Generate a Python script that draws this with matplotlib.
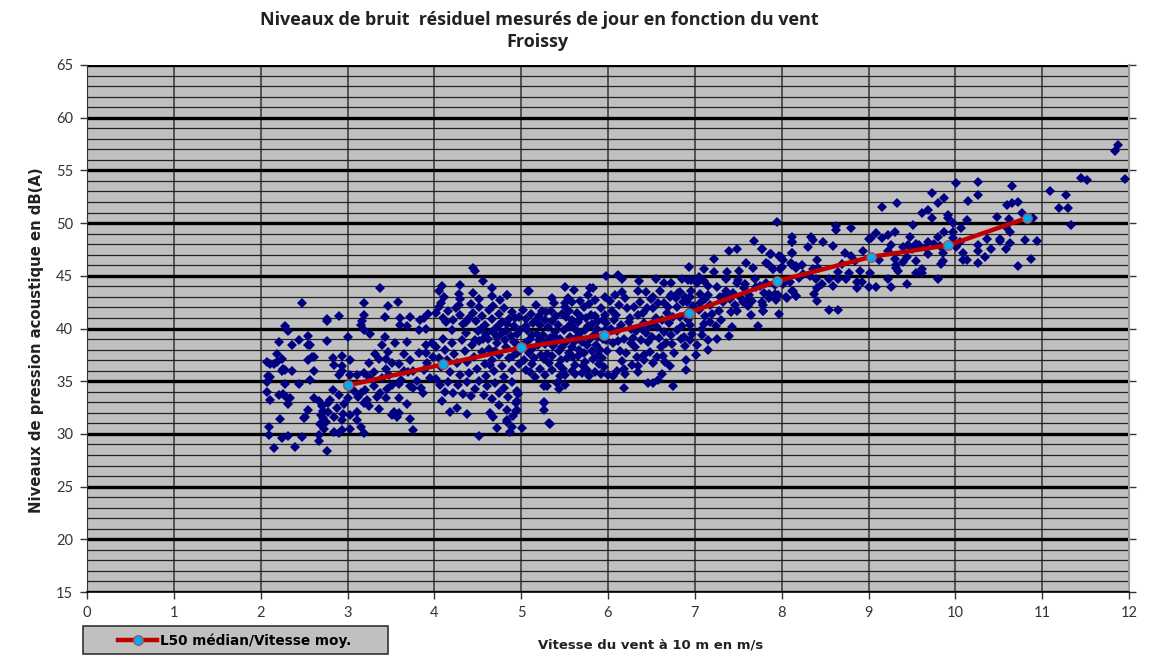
import matplotlib
matplotlib.use('Agg')
import matplotlib.pyplot as plt
from matplotlib.patches import Rectangle
import numpy as np

# values (wind m/s, level dB(A))
pts_2_4 = [
 (2.48,42.4),(2.90,41.2),(2.76,40.9),(2.76,40.7),(2.28,40.2),(2.32,39.8),(2.21,38.7),(2.44,38.9),(2.36,38.4),
 (2.55,39.3),(2.55,38.4),(2.57,38.4),(2.76,38.8),(3.01,39.2),(3.19,42.4),(3.19,41.3),(3.17,40.7),(3.15,40.3),
 (3.19,39.9),(3.26,39.5),(3.37,43.8),(3.47,42.1),(3.58,42.5),(3.43,41.1),(3.61,41.0),(3.72,41.1),(3.61,40.3),
 (3.69,40.2),(3.84,40.8),(3.88,41.0),(3.93,41.4),(3.82,39.9),(3.90,40.0),(3.43,39.2),(3.40,38.4),(3.47,37.8),
 (3.32,37.6),(3.65,37.6),(3.82,37.7),(3.97,38.6),(3.90,38.4),(2.19,37.6),(2.25,37.1),(2.07,36.8),(2.11,36.6),
 (2.15,36.6),(2.19,36.8),(2.26,36.2),(2.28,36.1),(2.25,36.0),(2.36,36.0),(2.08,35.5),(2.11,35.4),(2.07,34.9),
 (2.28,34.7),(2.44,34.7),(2.57,35.1),(2.61,36.0),(2.55,37.0),(2.59,37.3),(2.61,37.3),(2.83,37.2),(2.94,37.4),
 (3.03,37.0),(2.85,36.5),(2.94,36.4),(2.94,36.0),(2.90,35.6),(3.11,35.6),(3.03,35.6),(3.19,35.8),(3.25,36.7),
 (3.36,37.1),(3.44,37.1),(3.44,36.2),(3.51,36.7),(3.59,36.6),(3.65,36.0),(3.25,35.4),(3.30,34.5),(3.51,34.6),
 (3.59,34.7),(3.72,34.5),(3.75,34.4),(3.88,36.1),(3.92,36.7),(3.76,36.0),(2.07,34.0),(2.11,33.2),(2.21,33.7),
 (2.26,33.8),(2.29,33.5),(2.32,32.8),(2.34,33.4),(2.61,33.4),(2.83,34.2),(2.80,33.2),(2.78,32.9),(2.90,33.7),
 (2.67,33.1),(2.71,32.6),(2.55,32.3),(2.51,31.6),(2.69,31.8),(2.72,31.5),(2.78,32.1),(2.84,31.6),(2.94,31.3),
 (2.95,31.9),(3.03,31.8),(3.11,32.1),(3.11,31.3),(2.96,32.8),(3.15,33.9),(3.15,30.7),(3.03,30.5),(2.94,30.4),
 (2.90,30.1),(2.84,30.2),(3.19,30.1),(2.73,30.5),(2.67,29.9),(2.67,29.3),(2.76,28.4),(2.40,28.8),(2.48,29.7),
 (2.32,29.8),(2.25,29.6),(2.10,30.7),(2.10,29.9),(2.15,28.7),(2.22,31.4),(2.50,31.5),(3.22,33.2),(3.19,32.9),
 (3.25,32.6),(3.38,33.9),(3.44,33.4),(3.34,33.5),(3.36,32.4),(3.59,33.4),(3.53,32.1),(3.59,32.0),(3.57,31.6),
 (3.51,31.8),(3.69,32.8),(3.72,31.4),(3.75,30.4),(3.87,33.9),(2.72,32.2),(2.75,31.1),(2.68,30.9),(2.88,32.5),
 (3.30,35.9),(3.40,35.3),(3.48,35.6),(3.62,35.1),(3.70,35.9),(3.80,35.0),(3.85,34.4),(3.95,35.3),(3.98,37.3),
 (3.90,37.7),(3.72,37.0),(3.55,38.6),(3.68,38.7),(3.20,34.2),(3.08,34.1),(3.12,33.5),(3.45,34.3),(3.00,33.4),
]
pts_4_5 = [
 (4.09,33.1),(4.18,32.1),(4.26,32.5),(4.38,31.9),(4.51,29.8),(4.72,30.6),(4.87,30.2),(4.84,31.3),(4.91,31.7),
 (4.95,32.3),(4.95,33.1),(4.84,32.3),(4.64,32.0),(4.68,31.6),(4.74,32.7),(4.45,45.7),(4.47,45.5),(4.56,44.5),
 (4.29,44.1),(4.09,44.0),(4.05,43.6),(4.44,43.4),(4.66,43.8),(4.66,43.1),(4.84,43.2),(4.11,43.0),(4.28,43.3),
 (4.29,42.8),(4.51,42.8),(4.76,42.7),(4.84,43.2),(4.02,41.5),(4.05,42.0),(4.08,42.4),(4.10,41.0),(4.13,40.6),
 (4.16,41.7),(4.20,39.9),(4.22,40.8),(4.25,41.9),(4.28,42.2),(4.30,41.3),(4.33,40.4),(4.36,39.6),(4.40,41.0),
 (4.42,42.3),(4.45,41.5),(4.48,40.7),(4.50,39.8),(4.52,42.0),(4.55,41.2),(4.58,40.3),(4.60,39.5),(4.63,41.8),
 (4.66,40.9),(4.68,42.1),(4.70,40.0),(4.72,39.2),(4.75,41.4),(4.78,40.6),(4.80,41.9),(4.83,39.8),(4.86,40.9),
 (4.90,41.6),(4.92,40.2),(4.95,39.5),(4.98,41.1),(4.02,38.2),(4.05,37.2),(4.08,36.3),(4.10,39.0),(4.12,38.0),
 (4.15,37.0),(4.18,35.9),(4.20,38.6),(4.23,37.6),(4.26,36.7),(4.30,35.6),(4.32,38.9),(4.35,37.9),(4.38,36.8),
 (4.40,35.8),(4.43,38.4),(4.46,37.3),(4.49,36.2),(4.52,38.8),(4.55,37.8),(4.58,36.6),(4.60,35.5),(4.63,38.1),
 (4.66,37.0),(4.69,36.0),(4.72,38.6),(4.75,37.5),(4.78,36.4),(4.80,35.4),(4.83,38.2),(4.86,37.2),(4.89,36.1),
 (4.92,38.7),(4.95,37.7),(4.98,36.6),(4.02,35.2),(4.06,34.6),(4.12,34.0),(4.16,34.9),(4.22,33.9),(4.27,34.6),
 (4.33,33.8),(4.38,34.9),(4.42,33.6),(4.47,34.3),(4.52,35.0),(4.57,33.7),(4.61,34.5),(4.66,33.3),(4.70,34.8),
 (4.75,33.9),(4.80,34.4),(4.85,33.5),(4.90,34.9),(4.95,34.1),(4.94,32.2),(4.94,32.9),(4.84,31.1),(4.90,30.7),
 (4.96,33.8),(4.62,39.0),(4.68,39.7),(4.74,40.3),(4.77,39.5),(4.81,38.9),(4.84,40.4),(4.88,39.3),(4.91,37.4),
 (4.93,41.0),(4.96,38.4),(4.99,39.9),(4.70,37.9),(4.64,36.5),(4.54,40.0),(4.47,38.9),(4.56,39.0),(4.37,40.6),
]
pts_5_6 = [
 (5.01,30.6),(5.32,31.0),(5.26,33.0),(5.26,32.3),(5.09,43.6),(5.08,43.6),(5.50,43.9),(5.61,43.7),(5.79,43.8),
 (5.83,43.8),(5.77,43.2),(5.36,42.9),(5.54,42.9),(5.58,42.5),(5.51,42.4),(5.51,35.6),(5.51,34.6),(5.41,34.8),
 (5.44,34.3),(5.26,34.5),(5.30,34.5),(5.26,32.9),(5.33,30.9),(5.02,41.8),(5.05,40.9),(5.07,39.9),(5.10,39.0),
 (5.12,38.1),(5.15,37.2),(5.17,42.2),(5.20,41.2),(5.22,40.3),(5.25,39.4),(5.27,38.5),(5.30,37.6),(5.32,36.7),
 (5.34,41.7),(5.36,40.7),(5.39,39.7),(5.41,38.8),(5.43,37.9),(5.46,37.0),(5.48,36.2),(5.50,42.0),(5.52,41.1),
 (5.54,40.1),(5.56,39.2),(5.58,38.2),(5.60,37.3),(5.62,36.5),(5.64,41.5),(5.66,40.6),(5.68,39.6),(5.70,38.7),
 (5.72,37.7),(5.74,36.8),(5.76,36.1),(5.78,42.3),(5.80,41.3),(5.82,40.4),(5.84,39.4),(5.86,38.4),(5.88,37.5),
 (5.90,36.6),(5.92,41.9),(5.94,40.8),(5.96,39.9),(5.98,38.9),(5.99,37.9),(5.04,38.6),(5.09,37.7),(5.14,40.5),
 (5.18,39.5),(5.21,38.9),(5.26,37.1),(5.29,41.6),(5.33,39.1),(5.37,38.3),(5.42,40.3),(5.44,36.5),(5.47,41.4),
 (5.51,38.6),(5.55,37.7),(5.59,40.8),(5.63,39.1),(5.67,38.0),(5.71,36.4),(5.75,41.0),(5.79,39.0),(5.83,37.1),
 (5.87,40.0),(5.91,38.0),(5.95,36.3),(5.97,41.3),(5.10,35.9),(5.16,35.4),(5.22,36.2),(5.28,35.6),(5.35,36.1),
 (5.45,35.5),(5.58,36.0),(5.62,35.7),(5.70,35.8),(5.78,35.5),(5.85,35.9),(5.92,35.7),(5.03,37.0),(5.06,36.1),
 (5.12,36.6),(5.38,42.4),(5.68,42.6),(5.85,42.7),(5.96,43.0),(5.18,40.9),(5.31,40.1),(5.24,41.7),
 (5.06,40.2),(5.11,41.4),(5.13,39.4),(5.19,38.4),(5.23,37.5),(5.28,40.8),(5.31,38.9),(5.35,37.4),(5.38,39.3),
 (5.40,41.2),(5.45,39.0),(5.47,38.2),(5.49,39.9),(5.53,37.2),(5.57,40.4),(5.61,38.7),(5.65,37.4),(5.69,41.1),
 (5.73,39.9),(5.76,38.4),(5.77,40.2),(5.81,37.9),(5.85,41.2),(5.89,39.2),(5.93,37.2),(5.94,39.0),(5.98,40.5),
 (5.55,41.7),(5.62,40.0),(5.72,42.0),(5.88,40.7),
]
pts_6_7 = [
 (6.08,43.2),(6.16,43.5),(5.98,45.0),(6.12,45.1),(6.16,44.7),(6.36,44.5),(6.55,44.7),(6.44,43.5),(6.35,43.6),
 (6.64,44.3),(6.73,44.3),(6.60,43.6),(6.52,43.0),(6.73,43.2),(6.85,44.7),(6.92,44.6),(6.96,44.6),(6.89,43.0),
 (6.94,43.0),(6.96,43.6),(6.83,43.5),(6.90,37.0),(6.90,36.1),(6.75,34.5),(6.62,35.7),(6.71,36.4),(6.52,36.7),
 (6.46,34.8),(6.52,34.8),(6.58,35.1),(6.18,34.4),(6.93,45.8),(6.02,42.6),(6.05,41.7),(6.07,40.8),(6.10,39.8),
 (6.12,38.8),(6.14,37.9),(6.16,36.9),(6.18,36.2),(6.20,42.9),(6.22,41.9),(6.25,41.0),(6.27,40.0),(6.29,39.1),
 (6.31,38.2),(6.33,37.3),(6.35,36.4),(6.37,42.5),(6.40,41.5),(6.42,40.5),(6.44,39.6),(6.46,38.7),(6.48,37.8),
 (6.50,42.8),(6.52,41.9),(6.55,41.0),(6.57,40.1),(6.59,39.1),(6.61,38.2),(6.63,37.4),(6.65,42.4),(6.68,41.5),
 (6.70,40.5),(6.72,39.4),(6.74,38.5),(6.76,37.7),(6.78,42.9),(6.80,42.0),(6.83,41.1),(6.85,40.2),(6.87,39.2),
 (6.89,38.3),(6.91,42.5),(6.93,41.6),(6.95,40.3),(6.97,39.5),(6.98,42.1),(6.00,35.6),(6.06,35.5),(6.10,36.0),
 (6.20,35.7),(6.28,36.5),(6.34,35.9),(6.42,37.0),(6.56,37.3),(6.66,36.8),
 (6.03,40.0),(6.06,38.6),(6.09,41.3),(6.13,42.2),(6.15,40.3),(6.19,39.0),(6.21,37.7),(6.24,40.6),(6.26,38.6),
 (6.30,42.0),(6.32,39.8),(6.34,41.3),(6.38,38.9),(6.39,40.0),(6.41,37.5),(6.45,41.9),(6.47,40.2),(6.51,39.2),
 (6.53,40.6),(6.58,42.4),(6.62,40.8),(6.64,39.7),(6.67,38.6),(6.69,42.0),(6.71,43.0),(6.75,41.1),(6.79,39.9),
 (6.81,43.4),(6.84,39.0),(6.86,42.5),(6.92,40.8),(6.94,38.9),
]
pts_7_8 = [
 (7.00,44.6),(7.02,44.3),(7.11,45.6),(7.22,46.6),(7.22,45.4),(7.39,47.4),(7.48,47.5),(7.37,45.4),(7.59,46.2),
 (7.67,45.7),(7.51,45.5),(7.68,48.3),(7.77,47.5),(7.87,47.1),(7.82,46.2),(7.99,46.8),(7.97,46.9),(7.90,45.6),
 (7.98,45.6),(7.36,44.7),(7.50,44.6),(7.49,44.3),(7.15,44.0),(7.69,44.7),(7.57,43.8),(7.82,44.3),(7.92,44.1),
 (7.36,43.6),(7.29,43.0),(7.15,43.2),(7.06,43.3),(7.06,42.4),(7.61,42.8),(7.61,42.1),(7.79,42.2),(7.79,41.7),
 (7.65,41.3),(7.48,41.7),(7.42,41.6),(7.96,43.2),(7.94,42.7),(7.97,41.4),(7.73,40.2),(7.43,40.1),(7.39,39.3),
 (7.26,39.0),(7.15,38.0),(7.15,38.9),(7.08,40.0),(7.02,38.4),(7.01,37.5),(7.08,39.4),(7.05,44.9),(7.10,44.5),
 (7.12,42.8),(7.18,42.2),(7.20,41.4),(7.25,43.9),(7.28,41.7),(7.32,42.5),(7.35,43.2),(7.40,42.8),(7.44,43.4),
 (7.46,42.2),(7.52,43.0),(7.55,42.5),(7.58,44.2),(7.62,43.2),(7.66,42.6),(7.70,43.9),(7.75,44.0),(7.80,43.4),
 (7.85,42.9),(7.12,41.2),(7.05,41.8),(7.18,40.6),(7.10,40.4),(7.30,40.8),(7.24,40.2),(7.95,50.1),(7.77,47.5),
 (7.88,47.1),(7.84,46.1),(7.90,45.6),(7.98,46.8),(7.79,41.7),(7.77,42.5),(7.85,43.3),(7.92,43.3),(7.94,42.8),
]
pts_8_12 = [
 (8.12,48.2),(8.12,47.2),(8.11,46.2),(8.17,45.9),(8.05,43.0),(8.16,43.1),(8.13,43.6),(11.87,57.4),(11.84,56.8),
 (11.95,54.2),(11.45,54.3),(11.52,54.1),(11.09,53.0),(11.27,52.7),(11.19,51.4),(11.30,51.4),(11.33,49.8),
 (10.94,48.3),(10.80,48.4),(10.87,46.6),(10.72,45.9),(10.90,50.5),(10.65,53.5),(10.72,52.0),(10.65,51.9),
 (10.59,51.7),(10.77,51.0),(10.62,50.4),(10.48,50.6),(10.63,49.2),(10.63,48.1),(10.58,47.5),(10.52,48.5),
 (10.52,48.3),(10.37,48.5),(10.41,47.5),(10.34,46.8),(10.26,47.9),(10.26,47.4),(10.26,46.2),(10.26,53.9),
 (10.26,52.7),(10.15,52.1),(10.01,53.8),(10.13,50.3),(10.06,49.5),(9.97,50.0),(9.97,49.2),(9.97,48.6),
 (9.73,52.9),(9.87,52.4),(9.80,51.9),(9.69,51.2),(9.62,51.0),(9.73,50.5),(9.91,50.8),(9.91,50.5),(9.51,49.8),
 (9.87,49.2),(9.80,48.7),(9.69,48.2),(9.48,48.7),(10.01,47.7),(10.09,47.2),(10.09,46.5),(10.13,46.5),(9.86,46.4),
 (9.84,46.1),(9.86,47.2),(9.80,44.7),(9.44,44.2),(9.26,43.9),(9.09,43.9),(9.00,43.9),(8.87,43.8),(8.87,44.4),
 (8.92,44.4),(9.62,45.6),(9.62,45.3),(9.55,45.3),(9.32,45.7),(9.34,45.5),(9.23,44.7),(9.16,51.5),(9.33,51.9),
 (9.30,49.2),(9.23,48.9),(9.16,48.6),(9.09,49.1),(9.03,48.6),(9.00,48.5),(9.26,47.9),(9.23,47.4),(9.30,46.6),
 (9.32,46.0),(9.12,46.5),(8.94,47.4),(8.73,47.2),(8.80,46.9),(9.40,47.7),(9.46,47.9),(9.55,48.0),(9.40,46.3),
 (9.44,46.8),(9.55,46.4),(9.69,47.1),(8.62,49.7),(8.62,49.3),(8.80,49.5),(8.12,48.7),(8.12,48.2),(8.34,48.7),
 (8.36,48.4),(8.48,48.2),(8.59,47.8),(8.30,47.7),(8.12,47.2),(8.01,46.5),(8.12,46.0),(8.23,46.0),(8.00,45.8),
 (8.17,45.7),(8.41,46.5),(8.36,45.6),(8.42,45.7),(8.65,45.4),(8.77,45.3),(8.90,45.5),(9.02,45.3),(8.40,44.7),
 (8.46,44.2),(8.54,44.7),(8.65,44.7),(8.74,44.7),(8.59,44.0),(8.12,43.6),(8.16,43.1),(8.06,42.9),(8.37,43.3),
 (8.41,43.8),(8.41,42.6),(8.54,41.8),(8.65,41.8),(9.50,47.5),(9.58,47.9),(9.66,47.6),(9.75,48.0),(9.82,47.8),
 (10.05,48.2),(10.58,49.6),(8.25,45.2),(8.33,45.0),(8.10,44.4),(8.02,44.2),(8.20,44.8),(8.70,46.1),(8.85,46.4),
]

l50_wind = [3.0, 4.1, 5.0, 5.95, 6.93, 7.95, 9.03, 9.92, 10.83]
l50_level = [34.6, 36.6, 38.2, 39.4, 41.5, 44.5, 46.8, 47.9, 50.5]

x_ticks = list(range(0, 13))
y_ticks = list(range(15, 70, 5))

title_line = 'Niveaux de bruit  résiduel mesurés de jour en fonction du vent'
subtitle_line = 'Froissy'
x_label = 'Vitesse du vent à 10 m en m/s'
y_label = 'Niveaux de pression acoustique en dB(A)'
legend_label = 'L50 médian/Vitesse moy.'

W, H = 1153, 659
fig = plt.figure(figsize=(W/100, H/100), dpi=100)
ax = fig.add_axes([87/W, 1-592/H, (1129-87)/W, (592-65)/H])
ax.set_facecolor('#C0C0C0')

all_pts = np.array(pts_2_4 + pts_4_5 + pts_5_6 + pts_6_7 + pts_7_8 + pts_8_12)

ax.set_xlim(0, 12)
ax.set_ylim(15, 65)
ax.set_xticks(x_ticks)
ax.set_yticks(y_ticks)
ax.set_yticks(np.arange(15, 66, 1), minor=True)
ax.set_axisbelow(True)
ax.grid(True, which='major', axis='y', color='black', lw=2.4)
ax.grid(True, which='minor', axis='y', color='#222222', lw=0.9)
ax.grid(True, which='major', axis='x', color='#4a4a4a', lw=1.3)

ax.plot(all_pts[:, 0], all_pts[:, 1], ls='none', marker='D', ms=4.6, color='#000080', mew=0, zorder=3)
line, = ax.plot(l50_wind, l50_level, color='#C00000', lw=3.2, marker='o', ms=7,
                mfc='#00AEEF', mec='#C04040', mew=0.8, zorder=4)

ax.spines['top'].set_visible(False)
ax.spines['left'].set_color('#333333')
ax.spines['bottom'].set_color('black')
ax.spines['bottom'].set_linewidth(1.2)
ax.spines['right'].set_color('#999999')
ax.spines['right'].set_linewidth(1.5)

ax.tick_params(axis='both', which='major', length=5, width=1, labelsize=10.5, colors='#333333', pad=5)
ax.tick_params(axis='y', which='minor', length=0)
ax.tick_params(axis='y', right=True)
for t in ax.yaxis.get_major_ticks():
    t.tick2line.set_color('#999999')
for lab in ax.get_xticklabels() + ax.get_yticklabels():
    lab.set_fontfamily('Lato')

fig.text(539/W, 1-20/H, title_line, ha='center', va='center', fontsize=13, fontweight='bold', color='#222222', family='Open Sans')
fig.text(537/W, 1-42/H, subtitle_line, ha='center', va='center', fontsize=13, fontweight='bold', color='#222222', family='Open Sans')
fig.text(651/W, 1-645/H, x_label, ha='center', va='center', fontsize=9.5, fontweight='bold', color='#222222')
fig.text(37/W, 1-340/H, y_label, ha='center', va='center', rotation=90, fontsize=10.7, fontweight='bold', color='#222222')

fig.add_artist(Rectangle((83/W, 1-654/H), 305/W, 28/H, transform=fig.transFigure,
                         facecolor='#C0C0C0', edgecolor='#333333', lw=1.2))
leg = fig.legend([line], [legend_label], loc='center left', bbox_to_anchor=(118/W, 1-641/H),
                 frameon=False, borderaxespad=0, borderpad=0, handlelength=2.9, handletextpad=0.2,
                 prop={'size': 9.8, 'weight': 'bold'})

fig.savefig('out.png', dpi=100, facecolor='white')
